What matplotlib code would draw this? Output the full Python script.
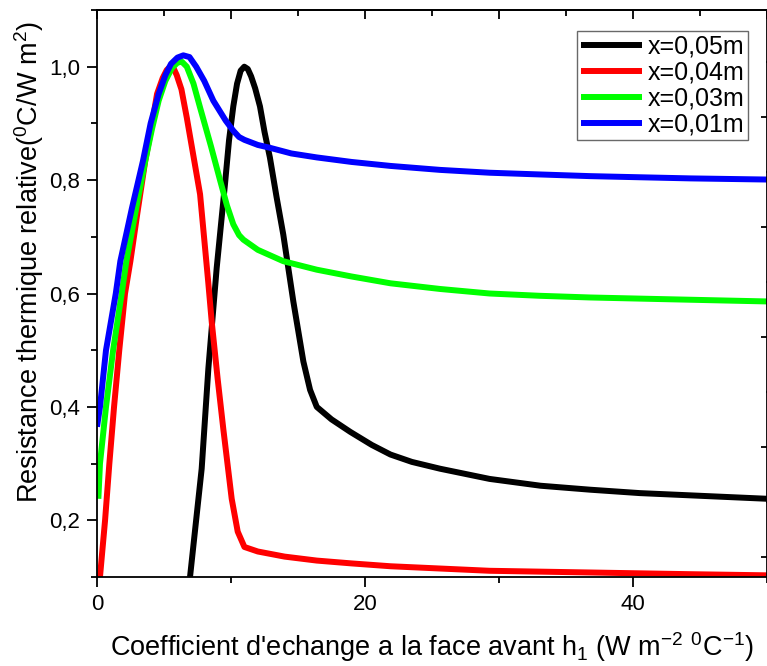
#Resistance thermique relative en fonction de h1
import matplotlib
matplotlib.use("Agg")
from matplotlib import pyplot as plt
from matplotlib.ticker import MultipleLocator, NullFormatter

plt.rcParams['font.family'] = ['Liberation Sans', 'DejaVu Sans']
plt.rcParams['mathtext.fontset'] = 'custom'
plt.rcParams['mathtext.rm'] = 'Liberation Sans'
plt.rcParams['mathtext.it'] = 'Liberation Sans'

# x = 0,05 m
h_noir = [6.94, 7.81, 8.31, 8.93, 9.55, 9.85, 10.17, 10.45, 10.72, 10.99, 11.25, 11.5,
          11.8, 12.16, 12.5, 12.9, 13.4, 13.9, 14.65, 15.4, 15.9, 16.4, 17.5, 18.9, 20.5,
          21.9, 23.5, 25.6, 29.3, 33.1, 36.8, 40.5, 44.3, 50.0]
r_noir = [0.10, 0.291, 0.468, 0.645, 0.793, 0.87, 0.93, 0.97, 0.993, 1.0, 0.996, 0.983,
          0.962, 0.93, 0.885, 0.84, 0.77, 0.704, 0.586, 0.48, 0.43, 0.40, 0.378, 0.356,
          0.333, 0.316, 0.303, 0.291, 0.273, 0.261, 0.254, 0.248, 0.244, 0.238]

# x = 0,04 m
h_rouge = [0.22, 0.6, 0.92, 1.27, 1.66, 2.09, 2.49, 3.0, 3.6, 3.96, 4.48, 4.9, 5.2,
           5.45, 5.7, 5.95, 6.3, 6.7, 7.14, 7.69, 8.3, 8.56, 9.0, 9.43, 10.05, 10.5, 11.0,
           12.0, 14.0, 16.4, 19.0, 21.9, 25.6, 29.3, 36.8, 44.3, 50.0]
r_rouge = [0.10, 0.20, 0.30, 0.40, 0.50, 0.60, 0.657, 0.74, 0.834, 0.88, 0.952, 0.98,
           0.994, 1.0, 0.998, 0.985, 0.96, 0.91, 0.85, 0.775, 0.62, 0.55, 0.45, 0.36,
           0.238, 0.18, 0.153, 0.145, 0.136, 0.129, 0.124, 0.119, 0.115, 0.111, 0.108,
           0.105, 0.103]

# x = 0,03 m
h_vert = [0.1, 0.22, 0.67, 1.2, 1.84, 2.19, 3.0, 3.6, 4.1, 4.6, 5.1, 5.6, 6.0, 6.32,
          6.7, 7.2, 7.69, 8.5, 9.18, 9.7, 10.17, 10.6, 10.92, 12.0, 13.9, 16.4, 19.0,
          21.9, 25.6, 29.3, 33.0, 36.8, 40.5, 44.3, 50.0]
r_vert = [0.238, 0.30, 0.40, 0.50, 0.60, 0.657, 0.76, 0.834, 0.89, 0.94, 0.975, 0.998,
          1.007, 1.009, 1.0, 0.97, 0.928, 0.86, 0.80, 0.755, 0.722, 0.703, 0.695, 0.677,
          0.657, 0.642, 0.63, 0.618, 0.608, 0.60, 0.596, 0.593, 0.591, 0.589, 0.586]

# x = 0,01 m
h_bleu = [0.0, 0.22, 0.67, 1.4, 1.74, 2.6, 3.43, 4.0, 4.6, 5.1, 5.52, 6.0, 6.44, 6.9,
          7.4, 8.0, 8.68, 9.6, 10.17, 10.6, 11.0, 12.0, 12.9, 14.5, 16.4, 19.0, 21.9,
          25.6, 29.3, 33.0, 36.8, 40.5, 44.3, 50.0]
r_bleu = [0.365, 0.40, 0.50, 0.60, 0.657, 0.75, 0.834, 0.90, 0.952, 0.985, 1.005, 1.016,
          1.02, 1.017, 1.0, 0.975, 0.94, 0.905, 0.887, 0.876, 0.871, 0.862, 0.857, 0.847,
          0.84, 0.832, 0.825, 0.818, 0.813, 0.81, 0.807, 0.805, 0.803, 0.801]

series = [
    (h_noir, r_noir, 'black', 'x=0,05m'),
    (h_rouge, r_rouge, 'red', 'x=0,04m'),
    (h_vert, r_vert, '#00FF00', 'x=0,03m'),
    (h_bleu, r_bleu, 'blue', 'x=0,01m'),
]

fig = plt.figure(figsize=(7.67, 6.66), dpi=100)
ax = fig.add_axes([0.1265, 0.1336, 0.8735, 0.8514])

for h, r, c, lab in series:
    ax.plot(h, r, color=c, lw=4.3, label=lab, solid_capstyle='butt', solid_joinstyle='round')

ax.set_xlim(0, 50)
ax.set_ylim(0.1, 1.1)
ax.xaxis.set_major_locator(MultipleLocator(20))
ax.xaxis.set_minor_locator(MultipleLocator(10))
ax.yaxis.set_major_locator(MultipleLocator(0.2))
ax.yaxis.set_minor_locator(MultipleLocator(0.1))
ax.yaxis.set_major_formatter(plt.FuncFormatter(lambda v, p: f"{v:.1f}".replace('.', ',')))

ax.tick_params(which='both', direction='out', width=1.3, labelsize=16, pad=5,
               top=False, right=False)
ax.tick_params(which='major', length=7)
ax.tick_params(which='minor', length=4.5)
for s in ax.spines.values():
    s.set_linewidth(1.3)

# ticks du haut (vers l'interieur)
axt = ax.secondary_xaxis('top')
axt.xaxis.set_major_locator(MultipleLocator(10))
axt.xaxis.set_minor_locator(MultipleLocator(5))
axt.xaxis.set_major_formatter(NullFormatter())
axt.tick_params(which='both', direction='in', width=1.3)
axt.tick_params(which='major', length=6.5)
axt.tick_params(which='minor', length=4.5)
axt.spines['top'].set_linewidth(1.3)

# axe de droite (coupé)
axr = ax.twinx()
axr.set_ylim(0.818, 5.973)
axr.yaxis.set_major_locator(MultipleLocator(1))
axr.yaxis.set_minor_locator(MultipleLocator(0.5))
axr.yaxis.set_major_formatter(NullFormatter())
axr.tick_params(which='both', direction='in', width=1.3)
axr.tick_params(which='major', length=4.5)
axr.tick_params(which='minor', length=1)
for s in axr.spines.values():
    s.set_visible(False)

ax.set_xlabel(r"Coefficient d'echange a la face avant h$_1$ (W m$^{-2}$ $^0$C$^{-1}$)",
              fontsize=19.5, labelpad=11)
ax.set_ylabel(r"Resistance thermique relative($^0$C/W m$^2$)", fontsize=19.5)
ax.yaxis.set_label_coords(-0.076, 0.556)

leg = ax.legend(loc='upper right', bbox_to_anchor=(0.9716, 0.963), fontsize=18,
                frameon=True, fancybox=False, edgecolor='#444444', handlelength=2.45,
                handletextpad=0.2, labelspacing=0.08, borderpad=0.15, borderaxespad=0)
leg.get_frame().set_linewidth(1.0)

fig.savefig('out.png', dpi=100)
